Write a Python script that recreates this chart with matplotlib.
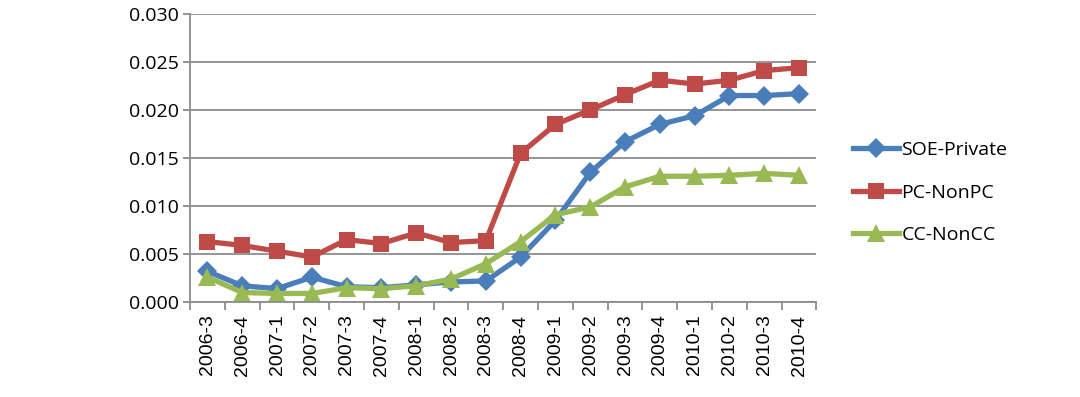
import matplotlib
matplotlib.use("Agg")
import matplotlib.pyplot as plt
import matplotlib.ticker as ticker
import numpy as np

quarters = ["2006-3", "2006-4", "2007-1", "2007-2", "2007-3", "2007-4",
            "2008-1", "2008-2", "2008-3", "2008-4", "2009-1", "2009-2",
            "2009-3", "2009-4", "2010-1", "2010-2", "2010-3", "2010-4"]
soe_private = [0.0032, 0.0017, 0.0014, 0.0026, 0.0016, 0.0015, 0.0018, 0.0021, 0.0022,
               0.0047, 0.0085, 0.0135, 0.0167, 0.0185, 0.0194, 0.0215, 0.0215, 0.0217]
pc_nonpc = [0.0063, 0.0059, 0.0053, 0.0047, 0.0065, 0.0061, 0.0072, 0.0062, 0.0064,
            0.0155, 0.0185, 0.0200, 0.0216, 0.0231, 0.0227, 0.0231, 0.0241, 0.0244]
cc_noncc = [0.0026, 0.0010, 0.0009, 0.0009, 0.0015, 0.0014, 0.0017, 0.0024, 0.0040,
            0.0063, 0.0091, 0.0099, 0.0120, 0.0131, 0.0131, 0.0132, 0.0134, 0.0132]

SERIES = [
    ("SOE-Private", soe_private, "#4A7EBB", "D", 10),
    ("PC-NonPC", pc_nonpc, "#BE4B48", "s", 12),
    ("CC-NonCC", cc_noncc, "#98B954", "^", 13),
]

plt.rcParams["font.family"] = ["Open Sans", "DejaVu Sans"]

fig = plt.figure(figsize=(10.8, 3.97), dpi=100)
ax = fig.add_axes([0.176, 0.239, 0.580, 0.726])

x = np.arange(len(quarters))
for name, vals, color, marker, ms in SERIES:
    ax.plot(x, vals, color=color, linewidth=3.8, marker=marker, markersize=ms,
            markeredgewidth=0, label=name)

ax.set_xlim(-0.5, len(quarters) - 0.5)
ax.set_ylim(0, 0.030)
ax.set_yticks(np.arange(0, 0.0301, 0.005))
ax.yaxis.set_major_formatter(ticker.FormatStrFormatter("%.3f"))
ax.grid(axis="y", color="#8c8c8c", linewidth=1.3)
ax.set_axisbelow(True)

ax.set_xticks(x)
ax.set_xticklabels(quarters, rotation=90, family=["Liberation Sans", "DejaVu Sans"],
                   fontsize=14)
ax.xaxis.set_minor_locator(ticker.FixedLocator(np.arange(-0.5, len(quarters), 1)))
ax.tick_params(axis="x", which="major", length=0, pad=9)
ax.tick_params(axis="x", which="minor", length=6, color="#8c8c8c", width=1.3)
ax.tick_params(axis="y", length=5, color="#8c8c8c", width=1.3, labelsize=14, pad=3)

for s in ["top", "right"]:
    ax.spines[s].set_visible(False)
for s in ["left", "bottom"]:
    ax.spines[s].set_color("#8c8c8c")
    ax.spines[s].set_linewidth(1.3)

ax.legend(loc="center left", bbox_to_anchor=(1.03, 0.38), frameon=False,
          fontsize=14, handlelength=2.4, labelspacing=1.25, handletextpad=0.1)

fig.savefig("out.png", dpi=100)
